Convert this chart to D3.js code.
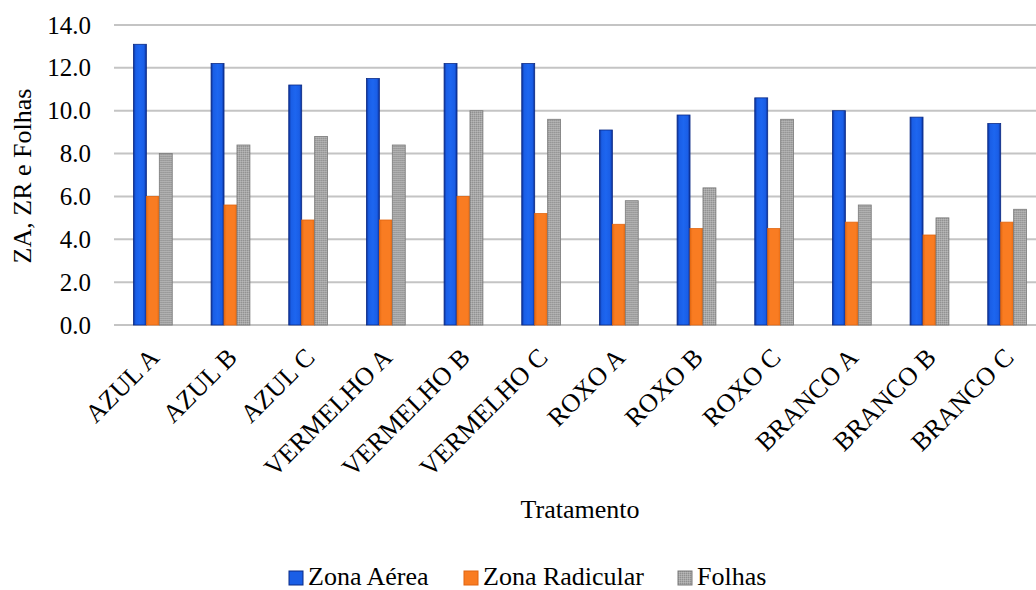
<!DOCTYPE html>
<html><head><meta charset="utf-8">
<script src="https://cdn.jsdelivr.net/npm/d3@7"></script>
</head><body style="margin:0"><svg id="c" width="1036" height="590"></svg>
<script>
const categories = ["AZUL A","AZUL B","AZUL C","VERMELHO A","VERMELHO B","VERMELHO C","ROXO A","ROXO B","ROXO C","BRANCO A","BRANCO B","BRANCO C"];
const seriesNames = ["Zona Aérea","Zona Radicular","Folhas"];
const zonaAerea = [13.1,12.2,11.2,11.5,12.2,12.2,9.1,9.8,10.6,10.0,9.7,9.4];
const zonaRadicular = [6.0,5.6,4.9,4.9,6.0,5.2,4.7,4.5,4.5,4.8,4.2,4.8];
const folhas = [8.0,8.4,8.8,8.4,10.0,9.6,5.8,6.4,9.6,5.6,5.0,5.4];
const yTicks = [0,2,4,6,8,10,12,14];

const FF = '"Liberation Serif"';
const svg = d3.select("#c");
const m = {l:114, r:1046, t:25, b:325};
const x0 = d3.scaleBand().domain(categories).range([m.l,m.r]).paddingInner(0.5).paddingOuter(0.25);
const x1 = d3.scaleBand().domain(seriesNames).range([0,x0.bandwidth()]);
const y = d3.scaleLinear().domain([0,14]).range([m.b,m.t]);

const defs = svg.append("defs");
function hgrad(id, stops){
  const g = defs.append("linearGradient").attr("id",id).attr("x1","0").attr("x2","1").attr("y1","0").attr("y2","0");
  stops.forEach(s=>g.append("stop").attr("offset",s[0]).attr("stop-color",s[1]));
}
hgrad("gBlue",[[0,"#0b2f95"],[0.18,"#1a5ee6"],[0.5,"#1d66f0"],[0.82,"#1a5ee6"],[1,"#0b2f95"]]);
hgrad("gOrange",[[0,"#e56a12"],[0.2,"#f97c22"],[0.8,"#f97c22"],[1,"#e56a12"]]);
const pat = defs.append("pattern").attr("id","pGray").attr("width",2).attr("height",2).attr("patternUnits","userSpaceOnUse");
pat.append("rect").attr("width",2).attr("height",2).attr("fill","#a8a8a8");
pat.append("rect").attr("width",1).attr("height",1).attr("fill","#909090");
pat.append("rect").attr("x",1).attr("y",1).attr("width",1).attr("height",1).attr("fill","#b8b8b8");

const fills = ["url(#gBlue)","url(#gOrange)","url(#pGray)"];
const strokes = ["#0a2a85","#e06510","#7a7a7a"];
const legendFills = ["#1a5ee6","#f97c22","url(#pGray)"];

// gridlines
svg.append("g").selectAll("line").data(yTicks).join("line")
  .attr("x1",m.l).attr("x2",1036).attr("y1",d=>y(d)).attr("y2",d=>y(d))
  .attr("stroke","#c4c4c4").attr("stroke-width",2);

// y axis labels
const yAxis = svg.append("g").attr("transform",`translate(${m.l},0)`)
  .call(d3.axisLeft(y).tickValues(yTicks).tickFormat(d3.format(".1f")).tickSize(0).tickPadding(23));
yAxis.select(".domain").remove();
yAxis.attr("font-family","Liberation Serif").attr("font-size",25);
yAxis.selectAll("text").style("font-family",FF).style("font-size","25px").attr("fill","#000");

// bars
const data = [zonaAerea, zonaRadicular, folhas];
const groups = svg.append("g").selectAll("g").data(categories).join("g")
  .attr("transform",d=>`translate(${x0(d)},0)`);
groups.selectAll("rect").data((d,i)=>seriesNames.map((s,k)=>({s,k,v:data[k][i]}))).join("rect")
  .attr("x",d=>x1(d.s)).attr("width",x1.bandwidth())
  .attr("y",d=>y(d.v)).attr("height",d=>y(0)-y(d.v))
  .attr("fill",d=>fills[d.k]).attr("stroke",d=>strokes[d.k]).attr("stroke-width",0.8);

// x axis labels
const xAxis = svg.append("g").attr("transform",`translate(0,${m.b})`)
  .call(d3.axisBottom(x0).tickSize(0).tickPadding(0));
xAxis.select(".domain").remove();
xAxis.attr("font-family","Liberation Serif").attr("font-size",26);
xAxis.selectAll("text").style("font-family",FF).style("font-size","26px").attr("fill","#000")
  .attr("text-anchor","end").attr("y",0).attr("dy",0)
  .attr("transform","translate(8,34) rotate(-45)");

// axis titles
svg.append("text").attr("x",580).attr("y",518).attr("text-anchor","middle")
  .style("font-family",FF).style("font-size","26px").text("Tratamento");
svg.append("text").attr("transform","translate(31,176) rotate(-90)").attr("text-anchor","middle")
  .style("font-family",FF).style("font-size","26px").text("ZA, ZR e Folhas");

// legend
const legX = [289,464,678];
const leg = svg.append("g").selectAll("g").data(seriesNames).join("g")
  .attr("transform",(d,i)=>`translate(${legX[i]},571)`);
leg.append("rect").attr("width",14).attr("height",14)
  .attr("fill",(d,i)=>legendFills[i]).attr("stroke",(d,i)=>strokes[i]).attr("stroke-width",1);
leg.append("text").attr("x",19).attr("y",14).style("font-family",FF).style("font-size","26px").text(d=>d);
</script></body></html>
